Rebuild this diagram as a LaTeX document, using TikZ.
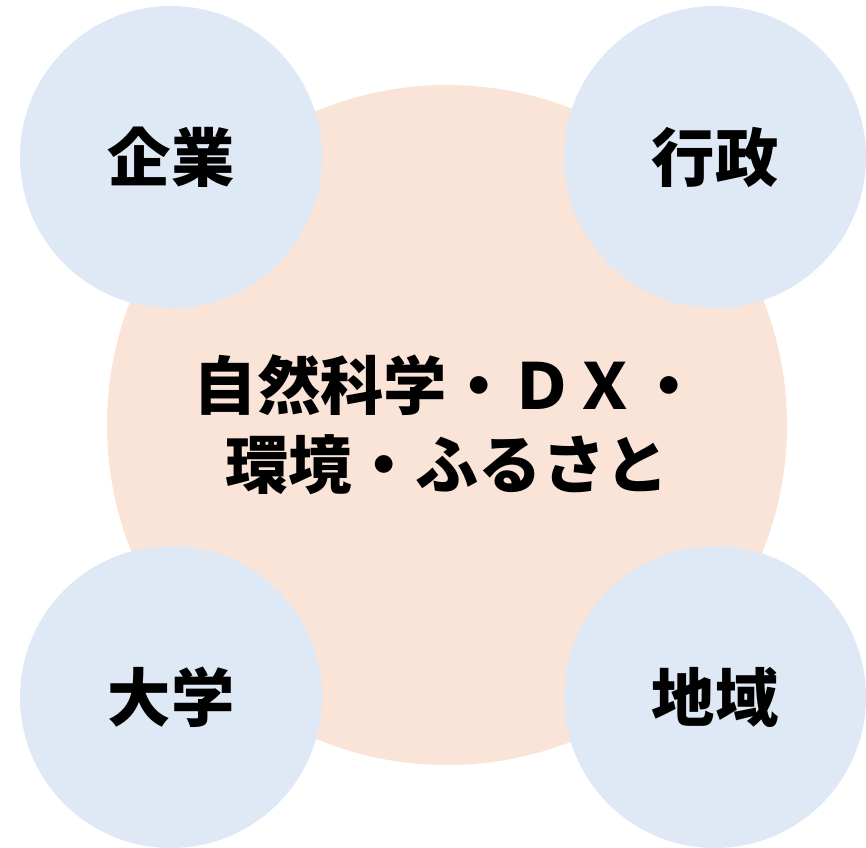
\documentclass[tikz,border=0pt]{standalone}
\usepackage{fontspec}
\newfontfamily\jpfont{Noto Sans CJK JP}
\definecolor{peach}{HTML}{FAE4D8}
\definecolor{paleblue}{HTML}{DEE9F5}
\tikzset{
	hub/.style={circle, fill=peach, inner sep=0pt, minimum size=510pt, align=center},
	actor/.style={circle, fill=paleblue, inner sep=0pt, minimum size=226.5pt}
}
\begin{document}
\begin{tikzpicture}[x=0.75pt, y=-0.75pt, font=\jpfont\bfseries\fontsize{47.5}{59.5}\selectfont]
			%Khung
			\useasboundingbox (0,0) rectangle (866,847);
			%Vòng giữa
			\node[hub] (theme) at (447,425) {\raisebox{3pt}{自然科学・ＤＸ・}\\\raisebox{3pt}{環境・ふるさと}};
			%Bốn vòng nhỏ
			\node[actor] (kigyo) at (171,157) {企業};
			\node[actor] (gyosei) at (715,157) {行政};
			\node[actor] (daigaku) at (171,697) {大学};
			\node[actor] (chiiki) at (715,697) {地域};
		\end{tikzpicture}
\end{document}
